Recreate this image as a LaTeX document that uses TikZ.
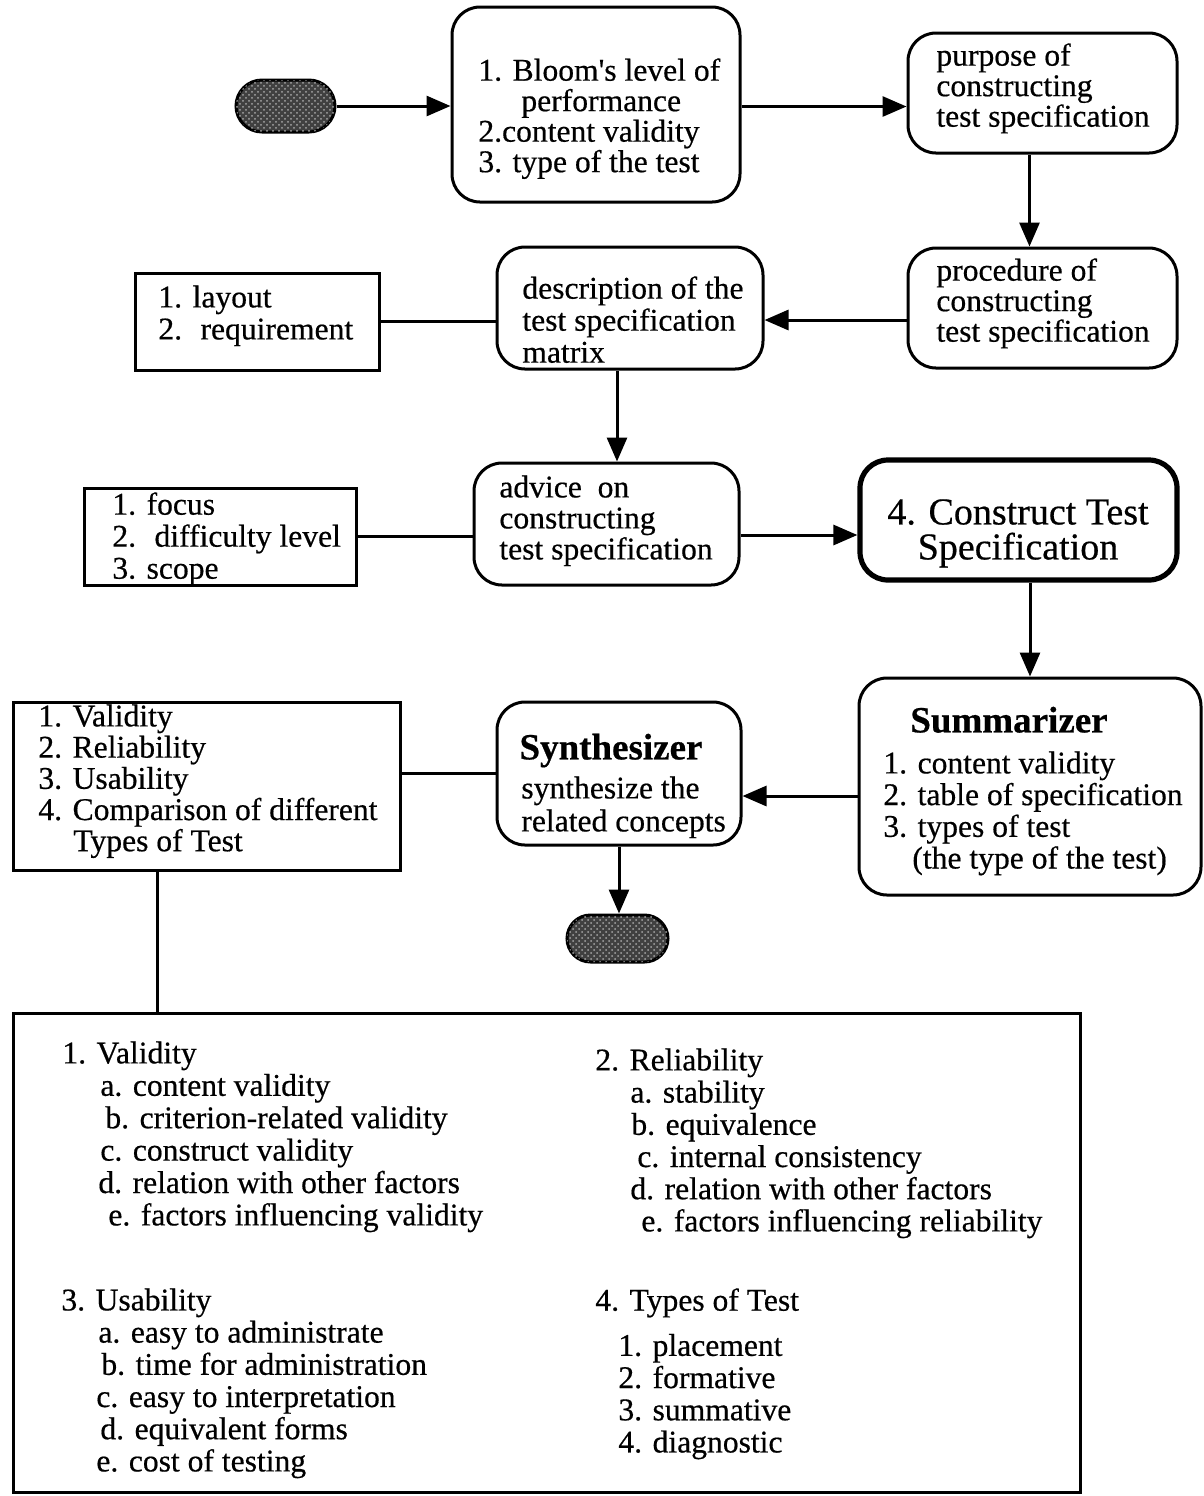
\documentclass[tikz,border=0pt]{standalone}
\usepackage{fontspec}
\setmainfont{Liberation Serif}[FakeBold=0.5]
\usetikzlibrary{arrows.meta,patterns}
% invisible strut that fixes the height of the first line of a text block
\newcommand{\firststrut}{\rule{0pt}{11pt}}
\begin{document}
\begin{tikzpicture}[x=0.5pt,y=-0.5pt,
  rbox/.style={draw, line width=1.5pt, rounded corners=14pt, inner sep=0pt},
  sbox/.style={draw, line width=1.5pt, inner sep=0pt},
  pill/.style={draw, line width=1.5pt, rounded corners=13pt, fill=black!75, inner sep=0pt,
               postaction={pattern=crosshatch dots, pattern color=black!35}},
  txt/.style={anchor=north west, inner sep=0pt, align=left, font={\fontsize{15.8}{#1}\selectfont}},
  txt/.default=15.8pt,
  title/.style={anchor=north, inner sep=0pt, align=center, font={\fontsize{18.5}{20}\selectfont\bfseries}},
  link/.style={line width=1.5pt},
  arr/.style={link, -{Triangle[length=12pt,width=10pt]}},
]
\useasboundingbox (0,0) rectangle (1204,1496);

% ---- shapes ----
\node[pill, minimum width=49.5pt, minimum height=26pt] (start) at (285.5,106) {};
\node[rbox, minimum width=144pt, minimum height=97.5pt] (b1) at (596,104.5) {};
\node[rbox, minimum width=134.5pt, minimum height=60pt] (b2) at (1042.5,93) {};
\node[rbox, minimum width=134.5pt, minimum height=60pt] (b3) at (1042.5,308) {};
\node[rbox, minimum width=133pt, minimum height=61pt] (b4) at (630,308) {};
\node[sbox, minimum width=122pt, minimum height=48.5pt] (l1) at (257,321.5) {};
\node[rbox, minimum width=132.5pt, minimum height=61pt] (adv) at (606.5,524) {};
\node[sbox, minimum width=136pt, minimum height=48.5pt] (l2) at (220,536.5) {};
\node[rbox, line width=2.6pt, minimum width=158.5pt, minimum height=60pt] (con) at (1018.5,520) {};
\node[rbox, minimum width=171pt, minimum height=108.5pt] (sum) at (1030,786.5) {};
\node[rbox, minimum width=122pt, minimum height=71.5pt] (syn) at (619,773.5) {};
\node[sbox, minimum width=193.5pt, minimum height=84pt] (l3) at (206.5,786) {};
\node[pill, rounded corners=11.75pt, minimum width=50.5pt, minimum height=23.5pt] (stop) at (617.5,938.5) {};
\node[sbox, minimum width=533.5pt, minimum height=239.5pt] (big) at (546.5,1252.5) {};

% ---- texts ----
\node[txt=15.25pt] (t1) at (478,58) {\firststrut 1. Bloom\textquotesingle s level of\\\hspace*{21.5pt}performance\\2.content validity\\3. type of the test};
\node[txt=15.25pt] (t2) at (936,43) {\firststrut purpose of\\constructing\\test specification};
\node[txt=15.25pt] (t3) at (936,258) {\firststrut procedure of\\constructing\\test specification};
\node[txt=16pt] (t4) at (522,276) {\firststrut description of the\\test specification\\matrix};
\node[txt=16pt] (t5) at (158,285) {\firststrut 1. layout\\2.~ requirement};
\node[txt=15.5pt] (t6) at (499,475) {\firststrut advice~ on\\constructing\\test specification};
\node[txt=16pt] (t7) at (112,492) {\firststrut 1. focus\\2.~ difficulty level\\3. scope};
\node[anchor=north, inner sep=0pt, align=center, font={\fontsize{19}{17.5}\selectfont}] (t8) at (1018,497)
  {\rule{0pt}{13.5pt}4. Construct Test\\Specification};
\node[title] (t9) at (1009,706) {\rule{0pt}{13pt}Summarizer};
\node[txt=15.85pt] (t10) at (883,751) {\firststrut 1. content validity\\2. table of specification\\3. types of test\\\hspace*{14.5pt}(the type of the test)};
\node[title] (t11) at (611,733) {\rule{0pt}{13pt}Synthesizer};
\node[txt=16.5pt] (t12) at (521,776) {\firststrut synthesize the\\related concepts};
\node[txt=15.6pt] (t13) at (38,704) {\firststrut 1. Validity\\2. Reliability\\3. Usability\\4. Comparison of different\\\hspace*{17.5pt}Types of Test};

\node[txt=16.2pt] (t14) at (62,1041) {\firststrut 1. Validity\\
  \hspace*{19pt}a. content validity\\
  \hspace*{21.5pt}b. criterion-related validity\\
  \hspace*{19pt}c. construct validity\\
  \hspace*{18pt}d. relation with other factors\\
  \hspace*{23pt}e. factors influencing validity};
\node[txt=16.1pt] (t15) at (595,1048) {\firststrut 2. Reliability\\
  \hspace*{17.5pt}a. stability\\
  \hspace*{18pt}b. equivalence\\
  \hspace*{21pt}c. internal consistency\\
  \hspace*{17.5pt}d. relation with other factors\\
  \hspace*{23pt}e. factors influencing reliability};
\node[txt=16.1pt] (t16) at (61,1288) {\firststrut 3. Usability\\
  \hspace*{18.5pt}a. easy to administrate\\
  \hspace*{20pt}b. time for administration\\
  \hspace*{17.5pt}c. easy to interpretation\\
  \hspace*{19.5pt}d. equivalent forms\\
  \hspace*{17.5pt}e. cost of testing};
\node[txt=16.1pt] (t17) at (595,1288) {\firststrut 4. Types of Test\\[6.5pt]
  \hspace*{11.5pt}1. placement\\
  \hspace*{11.5pt}2. formative\\
  \hspace*{11.5pt}3. summative\\
  \hspace*{11.5pt}4. diagnostic};

% ---- connectors ----
\draw[arr] (start.east) -- (start.east -| b1.west);
\draw[arr] ([yshift=-1pt]b1.east) -- ([yshift=-1pt]b1.east -| b2.west);
\draw[arr] ([xshift=-6.5pt]b2.south) -- ([xshift=-6.5pt]b2.south |- b3.north);
\draw[arr] ([yshift=-6pt]b3.west) -- ([yshift=-6pt]b3.west -| b4.east);
\draw[link] (l1.east) -- (l1.east -| b4.west);
\draw[arr] ([xshift=-6.5pt]b4.south) -- ([xshift=-6.5pt]b4.south |- adv.north);
\draw[link] (l2.east) -- (l2.east -| adv.west);
\draw[arr] ([yshift=-5.5pt]adv.east) -- ([yshift=-5.5pt]adv.east -| con.west);
\draw[arr] ([xshift=5.75pt]con.south) -- ([xshift=5.75pt]con.south |- sum.north);
\draw[arr] ([yshift=-4.75pt]sum.west) -- ([yshift=-4.75pt]sum.west -| syn.east);
\draw[link] (syn.west) -- (syn.west -| l3.east);
\draw[arr] (syn.south) -- (syn.south |- stop.north);
\draw[link] ([xshift=-24.75pt]l3.south) -- ([xshift=-24.75pt]l3.south |- big.north);
\end{tikzpicture}
\end{document}
